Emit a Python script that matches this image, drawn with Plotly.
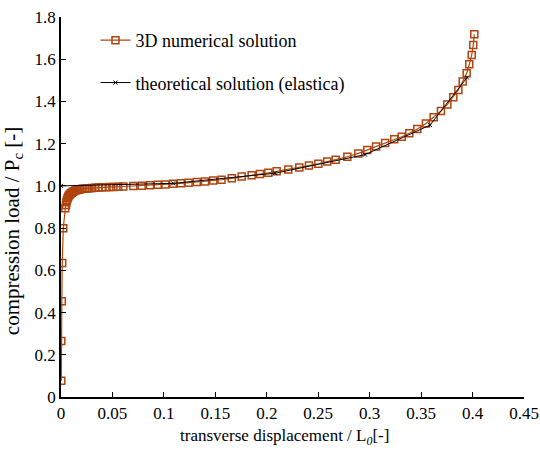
import plotly.graph_objects as go

# 3D numerical solution
num_x = [0.0003, 0.0003, 0.0008, 0.0012, 0.0022, 0.0042,
         0.0048, 0.0053, 0.0058, 0.0064, 0.0070, 0.0077, 0.0085, 0.0094,
         0.0104, 0.0115, 0.0127, 0.0140, 0.0155, 0.0171, 0.0189, 0.0208,
         0.0229, 0.0252, 0.0277, 0.0304, 0.0333, 0.0364, 0.0397, 0.0432,
         0.0470, 0.0510, 0.0555, 0.0606, 0.0703, 0.0784, 0.0865, 0.0940,
         0.1015, 0.1090, 0.1165, 0.1240, 0.1320, 0.1400, 0.1480, 0.1560,
         0.1660, 0.1756, 0.1853, 0.1934, 0.2015, 0.2096, 0.2209, 0.2316,
         0.2410, 0.2501, 0.2588, 0.2670, 0.2783, 0.2890, 0.2977, 0.3062,
         0.3150, 0.3239, 0.3311, 0.3385, 0.3463, 0.3547, 0.3622, 0.3693,
         0.3755, 0.3813, 0.3862, 0.3904, 0.3943, 0.3968, 0.3992, 0.4007,
         0.4017]
num_y = [0.077, 0.265, 0.453, 0.635, 0.799, 0.894,
         0.910, 0.922, 0.932, 0.941, 0.948, 0.954, 0.959, 0.964,
         0.968, 0.972, 0.975, 0.978, 0.980, 0.982, 0.984, 0.986,
         0.987, 0.988, 0.989, 0.990, 0.991, 0.992, 0.993, 0.994,
         0.995, 0.995, 0.996, 0.997, 0.999, 1.001, 1.003, 1.005,
         1.007, 1.010, 1.012, 1.015, 1.018, 1.021, 1.025, 1.029,
         1.036, 1.044, 1.050, 1.056, 1.062, 1.069, 1.078, 1.087,
         1.096, 1.105, 1.115, 1.124, 1.138, 1.154, 1.170, 1.186,
         1.203, 1.221, 1.233, 1.249, 1.269, 1.296, 1.325, 1.355,
         1.386, 1.420, 1.454, 1.494, 1.533, 1.576, 1.620, 1.667,
         1.718]

# theoretical solution (elastica)
th_x = [0.0, 0.109, 0.208, 0.2955, 0.3587, 0.3946]
th_y = [1.0, 1.012, 1.060, 1.148, 1.288, 1.513]

xticks = [0, 0.05, 0.1, 0.15, 0.2, 0.25, 0.3, 0.35, 0.4, 0.45]
xlabels = ["0", "0.05", "0.1", "0.15", "0.2", "0.25", "0.3", "0.35", "0.4", "0.45"]
yticks = [0, 0.2, 0.4, 0.6, 0.8, 1.0, 1.2, 1.4, 1.6, 1.8]
ylabels = ["0", "0.2", "0.4", "0.6", "0.8", "1.0", "1.2", "1.4", "1.6", "1.8"]

brown = "#B0440E"
font = "Liberation Serif, Times New Roman, serif"

fig = go.Figure()
fig.add_trace(go.Scatter(
    x=num_x, y=num_y, mode="lines+markers", name="3D numerical solution",
    legendgroup="a",
    line=dict(color=brown, width=1.2),
    marker=dict(symbol="square-open", size=7, color=brown, line=dict(width=1.5)),
))
fig.add_trace(go.Scatter(
    x=th_x, y=th_y, mode="lines+markers", name="theoretical solution (elastica)",
    legendgroup="b",
    line=dict(color="black", width=1),
    marker=dict(symbol="x-thin-open", size=4, color="black", line=dict(width=1, color="black")),
))

fig.update_layout(
    width=540, height=450,
    margin=dict(l=61, r=16, t=17, b=53),
    plot_bgcolor="white", paper_bgcolor="white",
    font=dict(family=font, size=17, color="black"),
    showlegend=True,
    legend=dict(x=0.0745, y=0.987, xanchor="left", yanchor="top",
                bgcolor="rgba(0,0,0,0)", font=dict(size=18),
                traceorder="grouped", tracegroupgap=16),
)
fig.update_xaxes(
    range=[0, 0.45], tickvals=xticks, ticktext=xlabels, automargin=False,
    ticklabeloverflow="allow",
    showline=True, linecolor="black", linewidth=1.5,
    ticks="inside", ticklen=5, tickcolor="black", showgrid=False, zeroline=False,
)
fig.update_yaxes(
    range=[0, 1.8], tickvals=yticks, ticktext=ylabels, automargin=False,
    ticklabeloverflow="allow",
    showline=True, linecolor="black", linewidth=1.5,
    ticks="inside", ticklen=5, tickcolor="black", showgrid=False, zeroline=False,
)

# axis titles as annotations so they sit where the original has them
fig.add_annotation(text="transverse displacement / L<sub><i>0</i></sub>[-]",
                   xref="paper", yref="paper", x=0.482, y=-0.105,
                   xanchor="center", yanchor="middle", showarrow=False,
                   font=dict(size=17))
fig.add_annotation(text="compression load / P<sub>c</sub> [-]",
                   xref="paper", yref="paper", x=-0.104, y=0.436,
                   xanchor="center", yanchor="middle", showarrow=False,
                   textangle=-90, font=dict(size=21))

# drop the default 8px body margin so the figure sits at the page corner
fig.write_html("out.html", config={"displayModeBar": False},
               post_script="document.body.style.margin='0';")
